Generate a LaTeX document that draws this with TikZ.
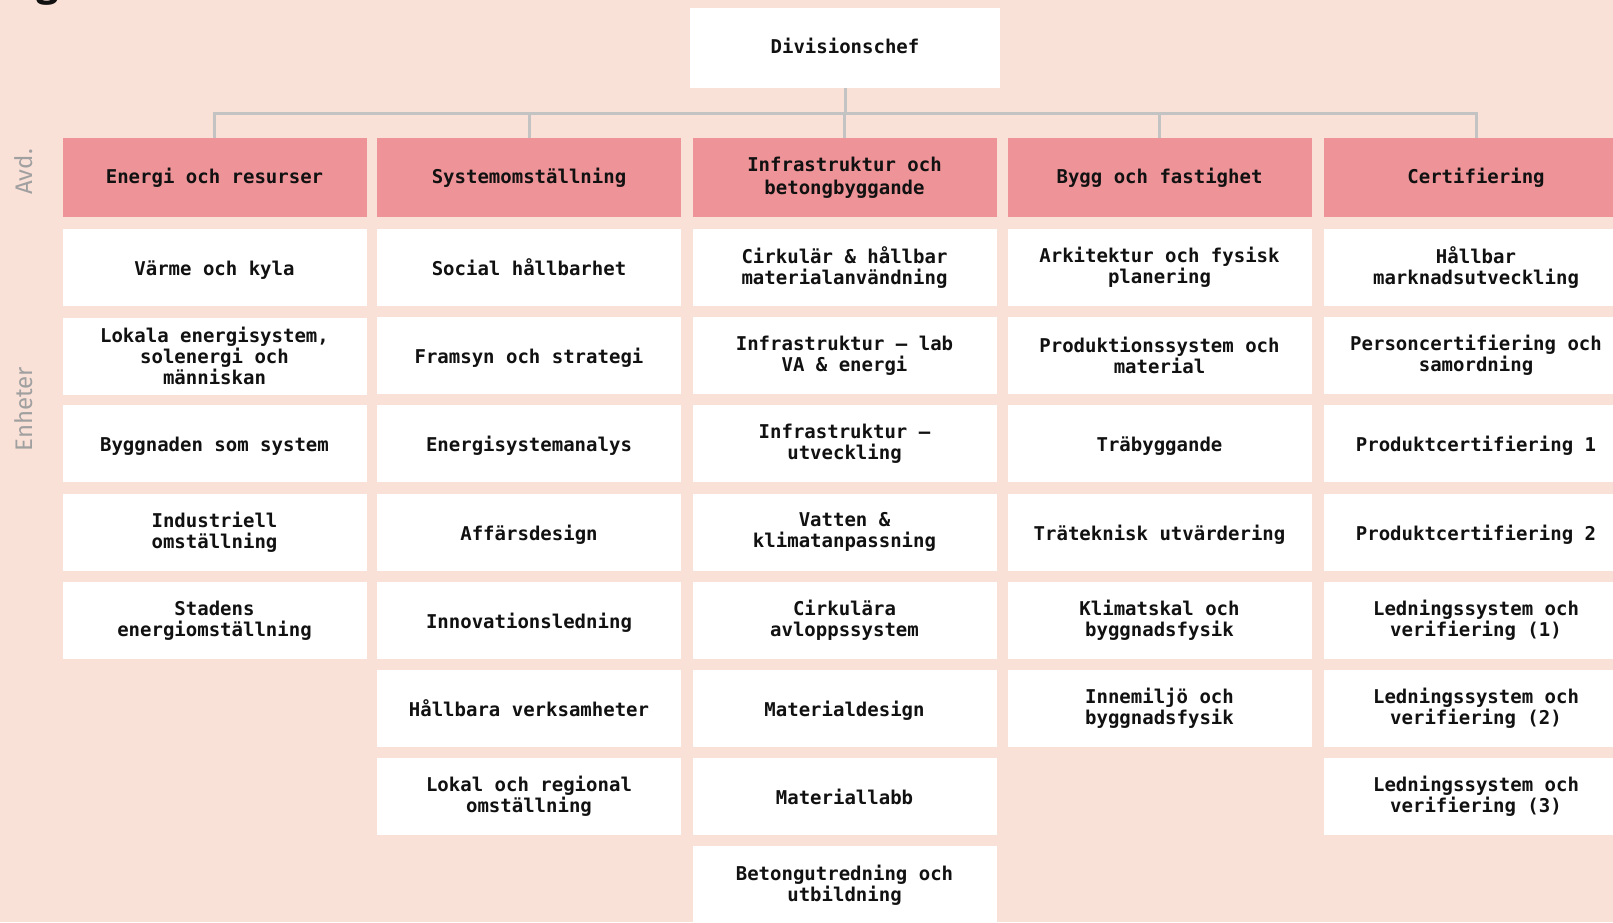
\documentclass[tikz,border=0pt]{standalone}
\usepackage{fontspec}
\setmonofont{DejaVu Sans Mono}
\setsansfont{Fira Sans}
\definecolor{bgpeach}{RGB}{250,225,216}
\definecolor{headpink}{RGB}{238,148,152}
\definecolor{linegray}{RGB}{195,195,195}
\definecolor{sidegray}{RGB}{160,160,160}
\definecolor{inkblack}{RGB}{17,17,17}
\tikzset{
  box/.style={rectangle, inner sep=0pt, minimum width=304pt, minimum height=77pt, fill=white, align=center, text=inkblack, font=\ttfamily\bfseries\fontsize{19}{21}\selectfont},
  onebox/.style={box, text height=16pt, text depth=0pt},
  headbox/.style={box, fill=headpink, minimum height=79pt, font=\ttfamily\bfseries\fontsize{19}{23.5}\selectfont},
  chefbox/.style={box, minimum width=310pt, minimum height=80pt, text height=11pt, text depth=0pt},
  conn/.style={draw=linegray, line width=3pt},
  sidelabel/.style={rotate=90, text=sidegray, font=\sffamily\fontsize{24}{24}\selectfont, inner sep=0pt}
}
\begin{document}
\begin{tikzpicture}[x=1pt,y=-1pt]
\useasboundingbox (0,0) rectangle (1613,922);
\clip (0,0) rectangle (1613,922);
\fill[bgpeach] (0,0) rectangle (1613,922);
% cut-off title fragment
\node[anchor=base, inner sep=0pt, text=inkblack, font=\sffamily\bfseries\fontsize{40}{40}\selectfont] (titlefrag) at (48,-4) {g};
% side labels
\node[sidelabel] (avd) at (24,172) {Avd.};
\node[sidelabel] (enh) at (24,409) {Enheter};
% chief
\node[chefbox] (chef) at (845,48) {Divisionschef};
% headers
\node[headbox] (h1) at (214.5,177.5) {Energi och resurser};
\node[headbox] (h2) at (529,177.5) {Systemomställning};
\node[headbox] (h3) at (844.5,177.5) {Infrastruktur och\\betongbyggande};
\node[headbox] (h4) at (1159.5,177.5) {Bygg och fastighet};
\node[headbox] (h5) at (1476,177.5) {Certifiering};
% connectors
\coordinate (bus) at (845,113);
\draw[conn] (chef.south) -- (bus);
\draw[conn] (h1.north) |- (bus);
\draw[conn] (h2.north) |- (bus);
\draw[conn] (h3.north) |- (bus);
\draw[conn] (h4.north) |- (bus);
\draw[conn] (h5.north) |- (bus);
% column 1
\node[onebox] (a1) at (214.5,267.5) {Värme och kyla};
\node[box] (a2) at (214.5,356.2) {Lokala energisystem,\\solenergi och\\människan};
\node[onebox] (a3) at (214.5,443.9) {Byggnaden som system};
\node[box] (a4) at (214.5,532.1) {Industriell\\omställning};
\node[box] (a5) at (214.5,620.3) {Stadens\\energiomställning};
% column 2
\node[onebox] (b1) at (529,267.5) {Social hållbarhet};
\node[onebox] (b2) at (529,355.7) {Framsyn och strategi};
\node[onebox] (b3) at (529,443.9) {Energisystemanalys};
\node[onebox] (b4) at (529,532.1) {Affärsdesign};
\node[onebox] (b5) at (529,620.3) {Innovationsledning};
\node[onebox] (b6) at (529,708.5) {Hållbara verksamheter};
\node[box] (b7) at (529,796.7) {Lokal och regional\\omställning};
% column 3
\node[box] (c1) at (844.5,267.5) {Cirkulär \& hållbar\\materialanvändning};
\node[box] (c2) at (844.5,355.7) {Infrastruktur – lab\\VA \& energi};
\node[box] (c3) at (844.5,443.9) {Infrastruktur –\\utveckling};
\node[box] (c4) at (844.5,532.1) {Vatten \&\\klimatanpassning};
\node[box] (c5) at (844.5,620.3) {Cirkulära\\avloppssystem};
\node[onebox] (c6) at (844.5,708.5) {Materialdesign};
\node[onebox] (c7) at (844.5,796.7) {Materiallabb};
\node[box] (c8) at (844.5,884.9) {Betongutredning och\\utbildning};
% column 4
\node[box] (d1) at (1159.5,267.5) {Arkitektur och fysisk\\planering};
\node[box] (d2) at (1159.5,355.7) {Produktionssystem och\\material};
\node[onebox] (d3) at (1159.5,443.9) {Träbyggande};
\node[onebox] (d4) at (1159.5,532.1) {Träteknisk utvärdering};
\node[box] (d5) at (1159.5,620.3) {Klimatskal och\\byggnadsfysik};
\node[box] (d6) at (1159.5,708.5) {Innemiljö och\\byggnadsfysik};
% column 5
\node[box] (e1) at (1476,267.5) {Hållbar\\marknadsutveckling};
\node[box] (e2) at (1476,355.7) {Personcertifiering och\\samordning};
\node[onebox] (e3) at (1476,443.9) {Produktcertifiering 1};
\node[onebox] (e4) at (1476,532.1) {Produktcertifiering 2};
\node[box] (e5) at (1476,620.3) {Ledningssystem och\\verifiering (1)};
\node[box] (e6) at (1476,708.5) {Ledningssystem och\\verifiering (2)};
\node[box] (e7) at (1476,796.7) {Ledningssystem och\\verifiering (3)};
\end{tikzpicture}
\end{document}
